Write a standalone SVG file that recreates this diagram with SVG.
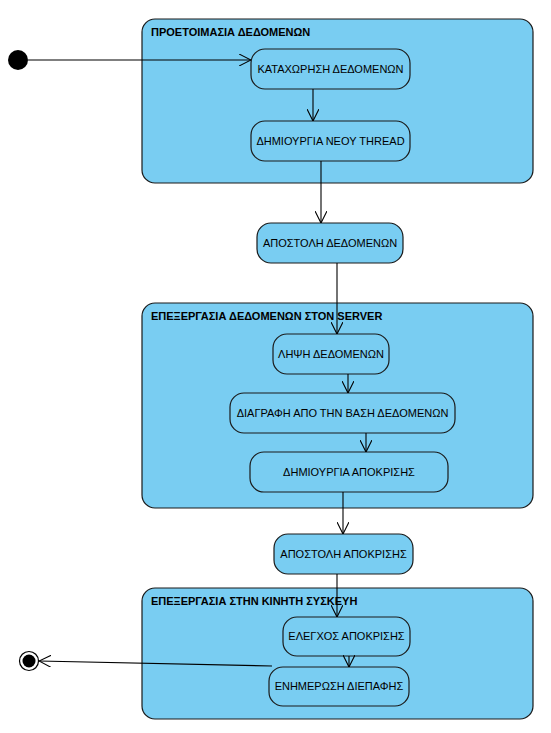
<svg xmlns="http://www.w3.org/2000/svg" width="551" height="733" viewBox="0 0 551 733">
<defs>
<style>
.cont{fill:#79CDF2;stroke:#1a1a1a;stroke-width:1.2}
.node{fill:#79CDF2;stroke:#1a1a1a;stroke-width:1.2}
.title{font-family:"Liberation Sans",Arial,sans-serif;font-size:11px;font-weight:bold;fill:#000}
.lbl{font-family:"Liberation Sans",Arial,sans-serif;font-size:11px;fill:#000;text-anchor:middle}
.edge{fill:none;stroke:#000;stroke-width:1.1;marker-end:url(#arr)}
</style>
<marker id="arr" viewBox="0 0 12 12" refX="12" refY="6" markerWidth="12" markerHeight="12" markerUnits="userSpaceOnUse" orient="auto">
<path d="M0,0 L12,6 L0,12" fill="none" stroke="#000" stroke-width="1.1"/>
</marker>
</defs>
<rect width="551" height="733" fill="#fff"/>

<g id="container-preparation">
<rect class="cont" x="142" y="19" width="391" height="164" rx="13"/>
<text class="title" x="151" y="36">ΠΡΟΕΤΟΙΜΑΣΙΑ ΔΕΔΟΜΕΝΩΝ</text>
</g>
<g id="container-server">
<rect class="cont" x="142" y="303" width="391" height="205" rx="13"/>
<text class="title" x="151" y="320">ΕΠΕΞΕΡΓΑΣΙΑ ΔΕΔΟΜΕΝΩΝ ΣΤΟΝ SERVER</text>
</g>
<g id="container-mobile">
<rect class="cont" x="142" y="588" width="391" height="131" rx="13"/>
<text class="title" x="151" y="605">ΕΠΕΞΕΡΓΑΣΙΑ ΣΤΗΝ ΚΙΝΗΤΗ ΣΥΣΚΕΥΗ</text>
</g>

<g id="start"><circle cx="18" cy="60" r="10" fill="#000"/></g>
<g id="end">
<circle cx="29" cy="661" r="9.5" fill="#fff" stroke="#000" stroke-width="1.2"/>
<circle cx="29" cy="661" r="6.5" fill="#000"/>
</g>

<g id="n-register">
<rect class="node" x="251" y="49" width="159" height="40" rx="14"/>
<text class="lbl" x="330.5" y="73">ΚΑΤΑΧΩΡΗΣΗ ΔΕΔΟΜΕΝΩΝ</text>
</g>
<g id="n-thread">
<rect class="node" x="251" y="121" width="159" height="40" rx="14"/>
<text class="lbl" x="330.5" y="145">ΔΗΜΙΟΥΡΓΙΑ ΝΕΟΥ THREAD</text>
</g>
<g id="n-send-data">
<rect class="node" x="257" y="223" width="146" height="40" rx="14"/>
<text class="lbl" x="330" y="247">ΑΠΟΣΤΟΛΗ ΔΕΔΟΜΕΝΩΝ</text>
</g>
<g id="n-receive">
<rect class="node" x="273" y="334" width="116" height="40" rx="14"/>
<text class="lbl" x="331" y="358">ΛΗΨΗ ΔΕΔΟΜΕΝΩΝ</text>
</g>
<g id="n-delete">
<rect class="node" x="230" y="393" width="225" height="40" rx="14"/>
<text class="lbl" x="342.5" y="417">ΔΙΑΓΡΑΦΗ ΑΠΟ ΤΗΝ ΒΑΣΗ ΔΕΔΟΜΕΝΩΝ</text>
</g>
<g id="n-create-resp">
<rect class="node" x="250" y="452" width="198" height="40" rx="14"/>
<text class="lbl" x="349" y="476">ΔΗΜΙΟΥΡΓΙΑ ΑΠΟΚΡΙΣΗΣ</text>
</g>
<g id="n-send-resp">
<rect class="node" x="274" y="534" width="139" height="40" rx="14"/>
<text class="lbl" x="343.5" y="558">ΑΠΟΣΤΟΛΗ ΑΠΟΚΡΙΣΗΣ</text>
</g>
<g id="n-check">
<rect class="node" x="283" y="617" width="127" height="39" rx="14"/>
<text class="lbl" x="346.5" y="640">ΕΛΕΓΧΟΣ ΑΠΟΚΡΙΣΗΣ</text>
</g>
<g id="n-update">
<rect class="node" x="269" y="667" width="140" height="39" rx="14"/>
<text class="lbl" x="339" y="690">ΕΝΗΜΕΡΩΣΗ ΔΙΕΠΑΦΗΣ</text>
</g>

<g id="connectors">
<path class="edge" d="M28,60 L251,60"/>
<path class="edge" d="M313,89 L313,121"/>
<path class="edge" d="M321,161 L321,223"/>
<path class="edge" d="M337,263 L337,334"/>
<path class="edge" d="M348,374 L348,393"/>
<path class="edge" d="M366,433 L366,452"/>
<path class="edge" d="M343,492 L343,534"/>
<path class="edge" d="M337,574 L337,617"/>
<path class="edge" d="M349,656 L349,667"/>
<path class="edge" d="M272,666 L39,661"/>
</g>
</svg>
